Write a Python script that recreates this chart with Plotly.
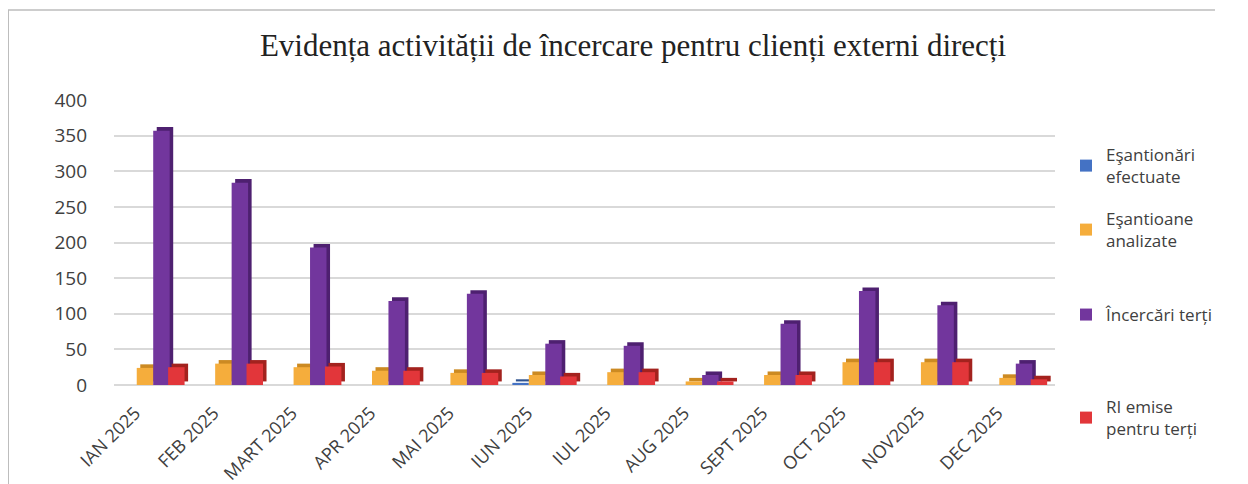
import plotly.graph_objects as go

months = ["IAN 2025", "FEB 2025", "MART 2025", "APR 2025", "MAI 2025", "IUN 2025",
          "IUL 2025", "AUG 2025", "SEPT 2025", "OCT 2025", "NOV2025", "DEC 2025"]
esantionari = [0, 0, 0, 0, 0, 3, 0, 0, 0, 0, 0, 0]
esantioane = [24, 30, 25, 20, 17, 14, 18, 5, 14, 32, 32, 10]
incercari = [357, 284, 193, 118, 128, 58, 55, 14, 86, 132, 112, 30]
ri_emise = [25, 30, 26, 20, 17, 12, 18, 5, 14, 32, 32, 8]
y_ticks = [0, 50, 100, 150, 200, 250, 300, 350, 400]

# name, values, front colour, side colour, offset (category units)
series = [
    ("Eşantionări<br>efectuate", esantionari, "#4472C4", "#2F528F", -0.42),
    ("Eşantioane<br>analizate", esantioane, "#F5AD3C", "#CC8A22", -0.21),
    ("Încercări terți", incercari, "#72369D", "#4E2070", 0.0),
    ("RI emise<br>pentru terți", ri_emise, "#E2363A", "#A3221E", 0.19),
]
BAR_W = 0.21
DX = 0.045     # depth, category units
DY = 5.0       # depth, value units

# page body has an 8px margin: work in screen coords minus 8
W, H = 1240, 476
ml, mr, mt, mb = 106, W - 1047, 92, H - 377
pw, ph = W - ml - mr, H - mt - mb

def px(x):
    return (x - ml) / pw

def py(y):
    return (H - mb - y) / ph

fig = go.Figure()
# side / top faces (drawn first)
for name, vals, col, side, off in series:
    fig.add_trace(go.Bar(
        x=months, y=[v if v > 0 else None for v in vals], base=DY,
        offset=off + DX, width=BAR_W,
        marker=dict(color=side, line=dict(width=0)),
        showlegend=False, hoverinfo="skip",
    ))
legend_tops = [129, 193, 289, 381]
for i, (name, vals, col, side, off) in enumerate(series):
    fig.add_trace(go.Bar(
        x=months, y=vals, name=name,
        offset=off, width=BAR_W,
        marker=dict(color=col, line=dict(width=0)),
        legend="legend" if i == 0 else f"legend{i+1}",
    ))

leg_common = dict(
    xanchor="left", yanchor="top",
    font=dict(size=17, color="#404040", family="Open Sans"),
    bgcolor="rgba(0,0,0,0)", itemsizing="constant",
)

layout_legends = {}
for i, top in enumerate(legend_tops):
    key = "legend" if i == 0 else f"legend{i+1}"
    layout_legends[key] = dict(x=px(1058), y=py(top), **leg_common)

fig.update_layout(
    width=W, height=H,
    margin=dict(l=ml, r=mr, t=mt, b=mb, autoexpand=False),
    paper_bgcolor="white", plot_bgcolor="white",
    barmode="overlay",
    title=dict(
        text="Evidența activității de încercare pentru clienți externi direcți",
        font=dict(family="Liberation Serif", size=31, color="#222222"),
        x=625 / W, xanchor="center", y=1 - 37 / H, yanchor="middle",
    ),
    font=dict(family="Open Sans", color="#404040"),
    xaxis=dict(
        range=[-0.5, 11.5], automargin=False,
        tickangle=-45, tickfont=dict(size=18, color="#404040", family="Open Sans"),
        showline=False, showgrid=False, ticks="",
        ticklabelshift=-18, ticklabelstandoff=13,
    ),
    yaxis=dict(
        range=[0, 400], tickvals=y_ticks, automargin=False,
        tickfont=dict(size=19, color="#404040", family="Open Sans"),
        showgrid=True, gridcolor="#D9D9D9", gridwidth=1.5,
        zeroline=True, zerolinecolor="#D9D9D9", zerolinewidth=1.5,
        ticks="", ticklabelstandoff=26,
    ),
    showlegend=True,
    shapes=[
        dict(type="line", xref="paper", yref="paper",
             x0=px(0), x1=px(0), y0=py(2), y1=py(476), line=dict(color="#BDBDBD", width=2)),
        dict(type="line", xref="paper", yref="paper",
             x0=px(0), x1=px(1207), y0=py(2), y1=py(2), line=dict(color="#BDBDBD", width=1.5)),
    ],
    **layout_legends,
)

fig.write_html("out.html")
